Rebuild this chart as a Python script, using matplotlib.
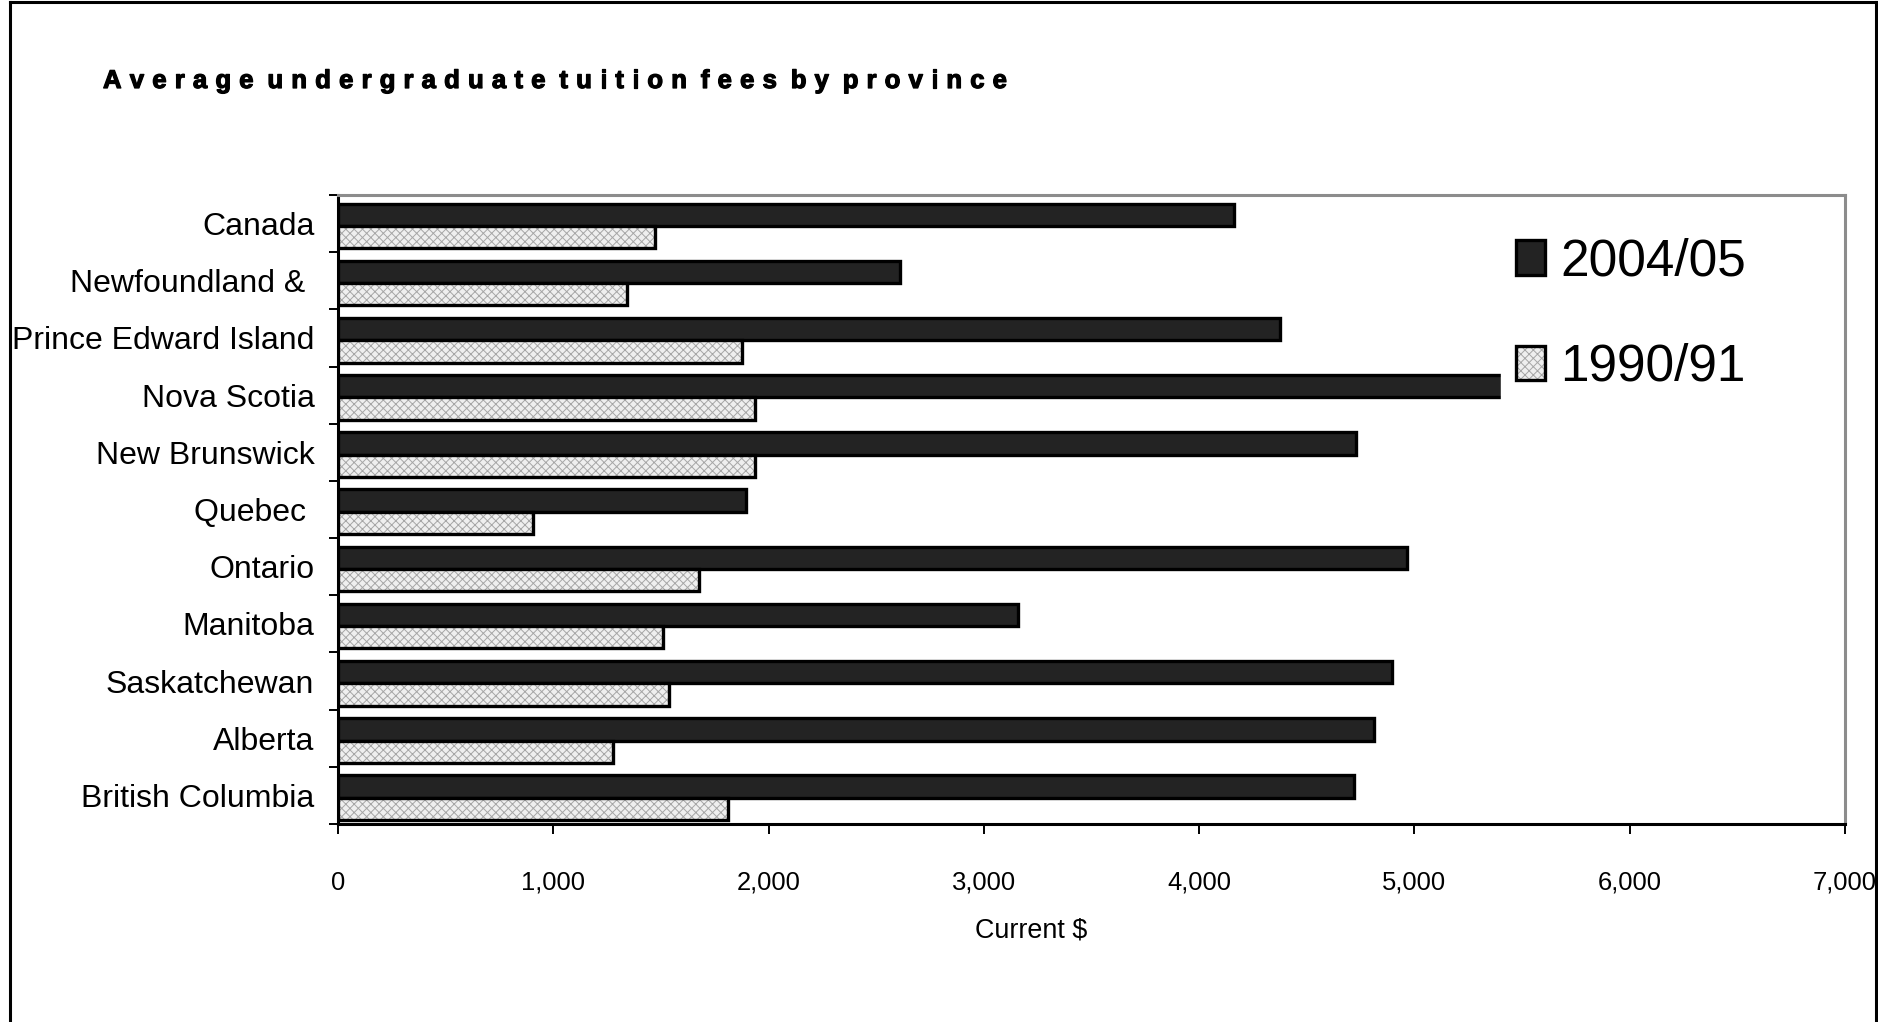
import matplotlib
matplotlib.use("Agg")
import matplotlib.pyplot as plt
from matplotlib import font_manager as fm
from matplotlib import patheffects as pe
from matplotlib.lines import Line2D
from matplotlib.legend_handler import HandlerTuple
from matplotlib.ticker import FuncFormatter
import numpy as np

# ---- data -------------------------------------------------------------
provinces = [
    "Canada", "Newfoundland & ", "Prince Edward Island", "Nova Scotia",
    "New Brunswick", "Quebec ", "Ontario", "Manitoba", "Saskatchewan",
    "Alberta", "British Columbia",
]
fees_2004_05 = [4160, 2609, 4377, 5984, 4727, 1895, 4965, 3159, 4894, 4811, 4721]
fees_1990_91 = [1474, 1344, 1876, 1938, 1938, 908, 1678, 1511, 1539, 1278, 1810]
series_labels = ["2004/05", "1990/91"]
x_ticks = [0, 1000, 2000, 3000, 4000, 5000, 6000, 7000]
title = "Average undergraduate tuition fees by province"
x_label = "Current $"

# ---- fonts ------------------------------------------------------------
def has_font(name):
    try:
        fm.findfont(fm.FontProperties(family=name), fallback_to_default=False)
        return True
    except Exception:
        return False

if has_font("Liberation Sans Narrow"):
    NARROW, NSCALE = "Liberation Sans Narrow", 1.0
else:
    NARROW, NSCALE = "Liberation Sans", 0.88
REGULAR = "Liberation Sans" if has_font("Liberation Sans") else "DejaVu Sans"

plt.rcParams["hatch.linewidth"] = 0.7

W, H, DPI = 1878, 1022, 100
fig = plt.figure(figsize=(W / DPI, H / DPI), dpi=DPI, facecolor="white")

# plot area in pixel terms
left, right, top, bottom = 338, 1845, 195, 824
ax = fig.add_axes([left / W, 1 - bottom / H, (right - left) / W, (bottom - top) / H])

y = np.arange(len(provinces)) + 0.04
bh = 0.39
dark = "#232323"

bars_new = ax.barh(y - bh / 2, fees_2004_05, height=bh, color=dark,
                   edgecolor="black", linewidth=2.4, zorder=3)
bars_old_fill = ax.barh(y + bh / 2, fees_1990_91, height=bh, color="#efefef",
                        edgecolor="#a6a6a6", hatch="xxxx", linewidth=0, zorder=3)
bars_old_edge = ax.barh(y + bh / 2, fees_1990_91, height=bh, fill=False,
                        edgecolor="black", linewidth=2.4, zorder=4)

ax.set_xlim(x_ticks[0], x_ticks[-1])
ax.set_ylim(len(provinces) - 0.5, -0.5)

# axes frame
for side in ("top", "right"):
    ax.spines[side].set_color("#8c8c8c")
    ax.spines[side].set_linewidth(2.2)
for side in ("left", "bottom"):
    ax.spines[side].set_color("black")
    ax.spines[side].set_linewidth(2.2)

# x axis
ax.set_xticks(x_ticks)
ax.xaxis.set_major_formatter(FuncFormatter(lambda v, p: f"{int(v):,}"))
ax.tick_params(axis="x", which="major", direction="out", length=7.5, width=1.4,
               pad=26, labelsize=21 * NSCALE)
for lab in ax.get_xticklabels():
    lab.set_fontfamily(NARROW)

# y axis: labels at categories, ticks at the category boundaries
ax.set_yticks(np.arange(len(provinces)))
ax.set_yticklabels(provinces, fontsize=23, fontfamily=REGULAR)
ax.set_yticks(np.arange(-0.5, len(provinces), 1.0), minor=True)
ax.tick_params(axis="y", which="major", length=0, pad=17)
ax.tick_params(axis="y", which="minor", direction="out", length=6.5, width=1.4)

# x-axis caption
fig.text(1031 / W, 1 - 937 / H, x_label, ha="center", va="baseline",
         fontsize=22 * NSCALE, fontfamily=NARROW)

# legend (white background hides what lies beneath it)
leg = ax.legend(
    [bars_new, (bars_old_fill, bars_old_edge)], series_labels,
    handler_map={tuple: HandlerTuple(ndivide=1, pad=0)},
    loc="upper left", bbox_to_anchor=(1501 / W, 1 - 222 / H),
    bbox_transform=fig.transFigure, frameon=True, fancybox=False,
    edgecolor="white", facecolor="white", framealpha=1.0,
    prop=fm.FontProperties(family=NARROW, size=42 * NSCALE),
    handlelength=0.55, handleheight=0.65, handletextpad=0.3,
    labelspacing=1.1, borderpad=0.3, borderaxespad=0,
)
leg.set_zorder(10)

# title drawn letter by letter with extra tracking
fig.canvas.draw()
renderer = fig.canvas.get_renderer()
tprop = fm.FontProperties(family=NARROW, size=18.5, weight="bold")
heavy = [pe.withStroke(linewidth=0.9, foreground="black")]

def text_width(t):
    w, _, _ = renderer.get_text_width_height_descent(t, tprop, ismath=False)
    return w

t_left, t_base, t_width = 103, 88, 904
space_factor = 0.7            # a word gap adds this many letter gaps
glyphs = [c for c in title if c != " "]
n_spaces = title.count(" ")
ink = sum(text_width(c) for c in glyphs)
gap = (t_width - ink) / (len(glyphs) - 1 + space_factor * n_spaces)
xpos = 0.0
for ch in title:
    if ch == " ":
        xpos += space_factor * gap
        continue
    fig.text((t_left + xpos) / W, 1 - t_base / H, ch, ha="left",
             va="baseline", fontproperties=tprop, path_effects=heavy)
    xpos += text_width(ch) + gap

# outer chart border
for xs, ys in (([9.5, 9.5], [2, H]), ([1875.5, 1875.5], [2, H]), ([9.5, 1875.5], [2, 2])):
    fig.add_artist(Line2D([v / W for v in xs], [1 - v / H for v in ys],
                          transform=fig.transFigure, color="black", lw=2.2))

fig.savefig("out.png", dpi=DPI, facecolor="white")
